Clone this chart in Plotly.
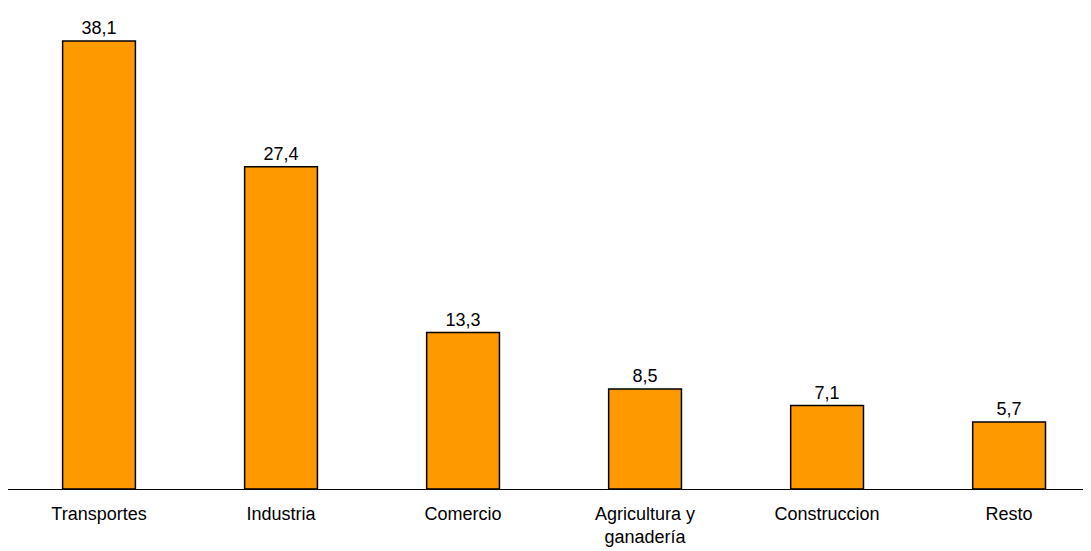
import plotly.graph_objects as go

categories = ['Transportes', 'Industria', 'Comercio', 'Agricultura y<br>ganadería', 'Construccion', 'Resto']
values = [38.1, 27.4, 13.3, 8.5, 7.1, 5.7]
labels = ['38,1', '27,4', '13,3', '8,5', '7,1', '5,7']

fig = go.Figure(go.Bar(
    x=categories, y=values, text=labels, textposition='outside',
    marker=dict(color='#FF9900', line=dict(color='black', width=1.5)),
    width=0.4, cliponaxis=False,
    textfont=dict(size=18, color='black'),
))

fig.update_layout(
    width=1091, height=551,
    margin=dict(l=0, r=8, t=0, b=70),
    plot_bgcolor='white', paper_bgcolor='white',
    font=dict(family='Liberation Sans, Arial', size=18, color='black'),
    showlegend=False,
)
fig.update_xaxes(showline=True, linecolor='black', linewidth=1, ticks='outside',
                 ticklen=8, tickcolor='white', tickfont=dict(size=18), automargin=False,
                 range=[-0.5, 5.45])
fig.update_yaxes(visible=False, range=[0, 40.9])

fig.write_html("out.html")
